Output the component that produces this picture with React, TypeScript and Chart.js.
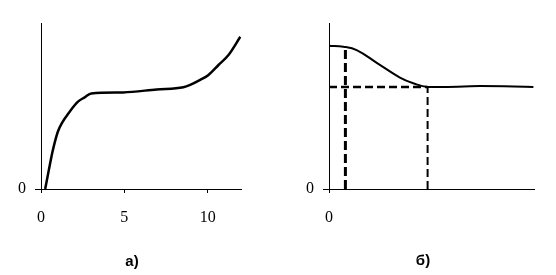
import React, { useEffect, useRef } from "react";
import { Chart, registerables } from "chart.js";

Chart.register(...registerables);

// Left chart (а)
const leftX = [0.25, 0.47, 0.67, 0.81, 1.01, 1.27, 1.72, 2.22, 2.62, 3.02, 4.93, 6.94, 8.54, 8.95, 9.55, 10.05, 10.65, 11.25, 11.96];
const leftY = [0, 1.14, 2.15, 2.75, 3.45, 4.0, 4.66, 5.26, 5.52, 5.76, 5.82, 6.0, 6.13, 6.27, 6.57, 6.87, 7.47, 8.07, 9.17];
const leftXTicks = [0, 5, 10];
const leftYTicks = [0];

// Right chart (б)
const rightX = [0, 0.7, 1.35, 2.33, 3.46, 4.11, 4.81, 7.37, 9.97];
const rightY = [8.63, 8.57, 8.37, 7.6, 6.71, 6.37, 6.15, 6.2, 6.15];
const rightXTicks = [0];
const rightYTicks = [0];
const dropX1 = 0.8;
const dropY1 = 8.56;
const levelY = 6.15;
const dropX2 = 4.81;

const serif = "'Liberation Serif', 'Times New Roman', serif";

function makeScales(xmin: number, xmax: number, xTicks: number[], yTicks: number[], yWidth: number) {
  const tickFont = { family: serif, size: 16 };
  return {
    x: {
      type: "linear" as const,
      min: xmin,
      max: xmax,
      afterBuildTicks: (s: any) => { s.ticks = xTicks.map((v) => ({ value: v })); },
      afterFit: (s: any) => { s.height = 86; },
      grid: { display: true, drawOnChartArea: false, drawTicks: true, tickLength: 4, color: "#000", lineWidth: 1 },
      border: { display: true, color: "#000", width: 1 },
      ticks: { color: "#000", font: tickFont, padding: 15, maxRotation: 0, autoSkip: false },
    },
    y: {
      type: "linear" as const,
      min: 0,
      max: 10,
      afterBuildTicks: (s: any) => { s.ticks = yTicks.map((v) => ({ value: v })); },
      afterFit: (s: any) => { s.width = yWidth; },
      grid: { display: true, drawOnChartArea: false, drawTicks: true, tickLength: 6, color: "#000", lineWidth: 1 },
      border: { display: true, color: "#000", width: 1 },
      ticks: { color: "#000", font: tickFont, padding: 9 },
    },
  };
}

function LeftChart() {
  const ref = useRef<HTMLCanvasElement>(null);
  useEffect(() => {
    const chart = new Chart(ref.current!, {
      type: "line",
      data: {
        datasets: [
          {
            data: leftX.map((x, i) => ({ x, y: leftY[i] })),
            borderColor: "#000",
            borderWidth: 2.5,
            pointRadius: 0,
            cubicInterpolationMode: "monotone",
            fill: false,
          },
        ],
      },
      options: {
        animation: false,
        responsive: false,
        devicePixelRatio: 1,
        layout: { padding: { left: 0, top: 23, right: 39, bottom: 0 } },
        plugins: { legend: { display: false }, tooltip: { enabled: false } },
        scales: makeScales(0, 12, leftXTicks, leftYTicks, 41) as any,
      },
    });
    return () => chart.destroy();
  }, []);
  return <canvas ref={ref} width={280} height={275} style={{ position: "absolute", left: 0, top: 0 }} />;
}

function RightChart() {
  const ref = useRef<HTMLCanvasElement>(null);
  useEffect(() => {
    const chart = new Chart(ref.current!, {
      type: "line",
      data: {
        datasets: [
          {
            data: rightX.map((x, i) => ({ x, y: rightY[i] })),
            borderColor: "#000",
            borderWidth: 2,
            pointRadius: 0,
            tension: 0.4,
            fill: false,
          },
          {
            data: [{ x: dropX1, y: 0 }, { x: dropX1, y: dropY1 }],
            borderColor: "#000",
            borderWidth: 3,
            borderDash: [9, 4],
            pointRadius: 0,
            fill: false,
          },
          {
            data: [{ x: 0, y: levelY }, { x: dropX2, y: levelY }],
            borderColor: "#000",
            borderWidth: 2.5,
            borderDash: [8, 4],
            pointRadius: 0,
            fill: false,
          },
          {
            data: [{ x: dropX2, y: 0 }, { x: dropX2, y: levelY }],
            borderColor: "#000",
            borderWidth: 2,
            borderDash: [8, 4],
            pointRadius: 0,
            fill: false,
          },
        ],
      },
      options: {
        animation: false,
        responsive: false,
        devicePixelRatio: 1,
        layout: { padding: { left: 0, top: 23, right: 22, bottom: 0 } },
        plugins: { legend: { display: false }, tooltip: { enabled: false } },
        scales: makeScales(0, 10, rightXTicks, rightYTicks, 49) as any,
      },
    });
    return () => chart.destroy();
  }, []);
  return <canvas ref={ref} width={276} height={275} style={{ position: "absolute", left: 280, top: 0 }} />;
}

const labelStyle: React.CSSProperties = {
  position: "absolute",
  transform: "translate(-50%, -50%)",
  font: "bold 15px 'Liberation Sans', Arial, sans-serif",
  color: "#000",
  lineHeight: "18px",
  whiteSpace: "nowrap",
};

export default function App() {
  return (
    <div style={{ position: "absolute", left: 0, top: 0, width: 556, height: 275, background: "#fff", overflow: "hidden" }}>
      <LeftChart />
      <RightChart />
      <span style={{ ...labelStyle, left: 132, top: 261 }}>а)</span>
      <span style={{ ...labelStyle, left: 423, top: 260 }}>б)</span>
    </div>
  );
}
